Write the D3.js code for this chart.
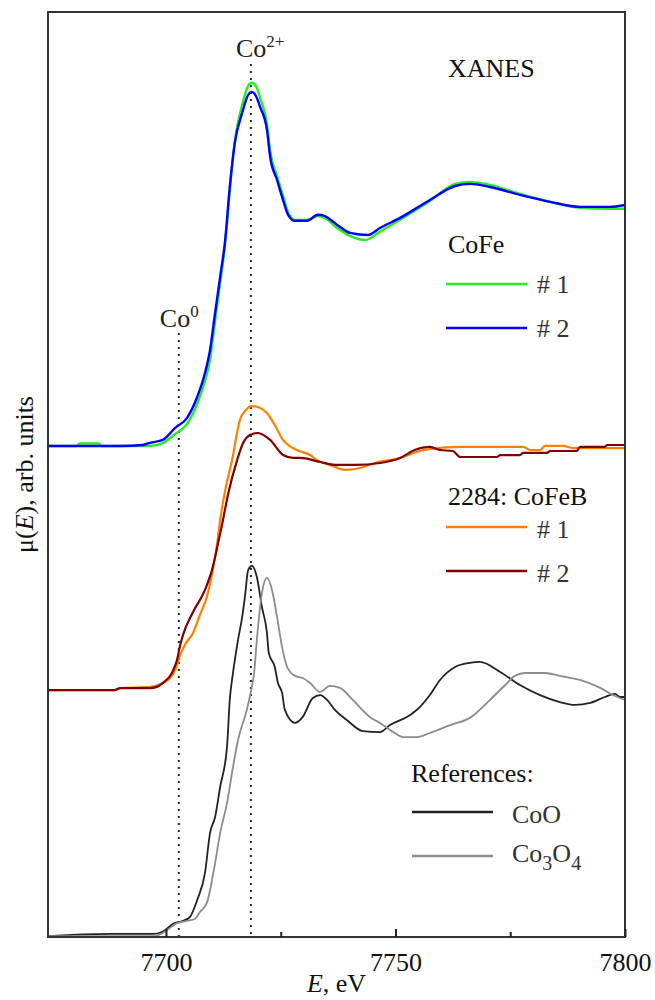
<!DOCTYPE html>
<html>
<head>
<meta charset="utf-8">
<script src="https://cdn.jsdelivr.net/npm/d3@7/dist/d3.min.js"></script>
<style>
body { margin: 0; background: #fff; }
svg text { font-family: "Liberation Serif", "DejaVu Serif", serif !important; }
</style>
</head>
<body>
<div id="chart"></div>
<script>
//// data: [E (eV), normalized mu(E)]
const cofe1 = [[7674.3,0],[7680.5,0],[7681.2,0.01],[7685.4,0.01],[7686.0,0],[7696.5,0],[7699.3,0.012],[7702.0,0.05],[7704.6,0.092],[7706.8,0.175],[7708.5,0.271],[7709.6,0.358],[7710.7,0.521],[7711.8,0.679],[7712.9,0.842],[7713.9,1.063],[7715.0,1.271],[7716.6,1.421],[7717.9,1.5],[7718.7,1.513],[7719.6,1.5],[7720.5,1.45],[7722.0,1.342],[7722.7,1.229],[7724.2,1.125],[7725.5,1.042],[7726.6,0.975],[7728.1,0.942],[7730.7,0.942],[7733.1,0.958],[7734.6,0.95],[7737.3,0.908],[7740.1,0.875],[7743.4,0.858],[7746.6,0.892],[7751.0,0.942],[7757.5,1.021],[7763.0,1.092],[7766.2,1.1],[7770.6,1.088],[7777.1,1.05],[7783.7,1.017],[7790.2,0.992],[7796.7,0.988],[7800.0,0.988]]
const cofe2 = [[7674.3,0],[7690.0,0],[7695.0,0.004],[7696.5,0.013],[7699.3,0.025],[7702.0,0.075],[7704.6,0.117],[7706.8,0.204],[7708.5,0.304],[7709.6,0.4],[7710.7,0.554],[7711.8,0.704],[7712.9,0.858],[7713.9,1.079],[7715.0,1.263],[7716.6,1.388],[7717.9,1.463],[7718.7,1.475],[7719.6,1.458],[7720.5,1.413],[7722.0,1.317],[7722.7,1.204],[7724.2,1.108],[7725.5,1.025],[7726.6,0.963],[7728.1,0.938],[7730.7,0.938],[7733.1,0.963],[7734.6,0.958],[7737.3,0.921],[7740.1,0.888],[7744.0,0.879],[7746.6,0.908],[7751.0,0.95],[7757.5,1.025],[7763.0,1.083],[7766.2,1.092],[7770.6,1.079],[7777.1,1.046],[7783.7,1.017],[7790.2,0.996],[7796.7,0.996],[7800.0,1.004]]
const cofeb1 = [[7674.3,0],[7688.9,0],[7690.0,0.008],[7696.5,0.013],[7699.3,0.029],[7700.9,0.05],[7702.0,0.083],[7703.1,0.146],[7704.1,0.188],[7705.9,0.238],[7707.4,0.313],[7708.9,0.388],[7710.2,0.5],[7711.1,0.604],[7711.8,0.708],[7712.9,0.833],[7714.4,0.958],[7716.1,1.125],[7717.4,1.167],[7718.7,1.183],[7720.0,1.179],[7722.0,1.154],[7723.7,1.104],[7725.5,1.042],[7728.5,1.0],[7731.4,0.979],[7732.9,0.958],[7735.7,0.938],[7739.0,0.917],[7742.3,0.925],[7745.5,0.946],[7751.0,0.967],[7755.3,0.996],[7757.5,1.004],[7764.1,1.013],[7777.8,1.013],[7779.3,1.0],[7781.5,1.0],[7782.6,1.017],[7786.5,1.017],[7788.7,1.008],[7800.0,1.008]]
const cofeb2 = [[7674.3,0],[7688.9,0],[7690.0,0.008],[7696.5,0.008],[7698.0,0.013],[7699.3,0.029],[7701.3,0.071],[7702.4,0.125],[7703.1,0.188],[7703.7,0.229],[7705.9,0.325],[7708.5,0.417],[7710.2,0.513],[7711.5,0.625],[7712.2,0.688],[7713.5,0.813],[7715.5,0.958],[7716.8,1.029],[7718.3,1.063],[7720.0,1.071],[7721.6,1.058],[7722.7,1.042],[7725.5,0.979],[7727.7,0.967],[7729.2,0.967],[7733.6,0.95],[7736.8,0.938],[7741.2,0.938],[7746.6,0.946],[7751.0,0.967],[7754.2,1.0],[7757.5,1.013],[7759.7,1.0],[7762.5,0.996],[7764.1,0.971],[7772.1,0.971],[7772.8,0.979],[7777.1,0.979],[7777.8,0.988],[7783.0,0.988],[7783.7,0.996],[7789.5,0.996],[7790.2,1.013],[7795.6,1.013],[7796.1,1.021],[7800.0,1.021]]
const coO = [[7674.3,0.004],[7687.8,0.013],[7697.2,0.013],[7699.1,0.021],[7699.8,0.029],[7701.5,0.054],[7703.7,0.067],[7705.2,0.083],[7706.8,0.154],[7708.5,0.267],[7709.6,0.433],[7710.7,0.5],[7711.8,0.625],[7713.3,0.792],[7713.9,0.988],[7714.6,1.1],[7715.7,1.238],[7716.6,1.333],[7717.2,1.417],[7717.9,1.529],[7718.7,1.546],[7719.8,1.5],[7720.9,1.375],[7722.0,1.267],[7722.4,1.183],[7723.7,1.125],[7724.4,1.058],[7725.3,1.017],[7725.9,0.946],[7728.1,0.892],[7729.8,0.917],[7732.0,0.996],[7733.6,1.008],[7735.1,0.988],[7736.8,0.946],[7739.4,0.904],[7742.9,0.858],[7746.6,0.854],[7748.8,0.883],[7753.2,0.925],[7755.3,0.958],[7757.5,1.008],[7759.7,1.071],[7763.0,1.125],[7766.2,1.142],[7768.4,1.146],[7772.8,1.104],[7777.1,1.05],[7781.5,1.008],[7785.8,0.979],[7789.1,0.967],[7792.4,0.975],[7795.6,1.0],[7797.8,1.013],[7798.9,1.0],[7800.0,1.0]]
const co3O4 = [[7674.3,0.004],[7697.6,0.004],[7699.3,0.017],[7700.9,0.038],[7702.4,0.058],[7704.6,0.067],[7706.3,0.075],[7707.4,0.104],[7708.9,0.142],[7710.7,0.308],[7711.8,0.433],[7713.3,0.558],[7714.6,0.708],[7715.7,0.821],[7717.6,0.946],[7718.7,1.042],[7719.2,1.1],[7719.8,1.238],[7720.9,1.433],[7722.0,1.496],[7723.1,1.446],[7724.2,1.333],[7725.3,1.208],[7726.4,1.125],[7728.1,1.088],[7729.8,1.079],[7731.4,1.058],[7733.6,1.021],[7735.7,1.046],[7737.9,1.038],[7740.7,0.988],[7744.4,0.917],[7746.6,0.892],[7749.5,0.854],[7751.6,0.833],[7754.7,0.833],[7757.5,0.85],[7761.9,0.883],[7766.2,0.913],[7770.6,0.988],[7773.9,1.05],[7776.0,1.088],[7778.2,1.1],[7782.6,1.1],[7785.8,1.088],[7790.2,1.071],[7794.6,1.038],[7797.8,1.004],[7800.0,0.988]]

// vertical offsets of the stacked spectra
const offsetCoFe = 2.046
const offsetCoFeB = 1.029
const offsetRefs = 0

const energyDomain = [7674.3, 7800]
const muDomain = [0, 3.854]
const tickValues = [7700, 7750, 7800]
const minorTickValues = [7725, 7775]
const edgeEnergies = [7702.8, 7718.5]   // Co0, Co2+

//// series table
const series = [
    { data: cofe1, offset: offsetCoFe, color: "#22ee22", width: 2.4 },
    { data: cofe2, offset: offsetCoFe, color: "#0000ff", width: 2.4 },
    { data: cofeb1, offset: offsetCoFeB, color: "#ff8000", width: 2.2 },
    { data: cofeb2, offset: offsetCoFeB, color: "#800000", width: 2.2 },
    { data: coO, offset: offsetRefs, color: "#222222", width: 1.8 },
    { data: co3O4, offset: offsetRefs, color: "#8c8c8c", width: 1.8 }
]

const serif = '"Liberation Serif", "DejaVu Serif", serif'

let width = 655
let height = 1000
let margin = { top: 12, right: 30, bottom: 63, left: 48 }

let x = d3.scaleLinear().domain(energyDomain).range([margin.left, width - margin.right])
let y = d3.scaleLinear().domain(muDomain).range([height - margin.bottom, margin.top])

const svg = d3.select("#chart").append("svg")
    .attr("width", width)
    .attr("height", height)
    .style("font-family", serif)

//// dotted edge markers
let edgeTop = [333, 64]
for (let i = 0; i < edgeEnergies.length; i++) {
    svg.append("line")
        .attr("x1", x(edgeEnergies[i])).attr("x2", x(edgeEnergies[i]))
        .attr("y1", edgeTop[i]).attr("y2", height - margin.bottom)
        .attr("stroke", "#222")
        .attr("stroke-width", 2)
        .attr("stroke-dasharray", "2,5")
}

//// spectra
for (let k = 0; k < series.length; k++) {
    let s = series[k]
    let line = d3.line()
        .x(d => x(d[0]))
        .y(d => y(d[1] + s.offset))
        .curve(d3.curveMonotoneX)
    svg.append("path")
        .datum(s.data)
        .attr("fill", "none")
        .attr("stroke", s.color)
        .attr("stroke-width", s.width)
        .attr("stroke-linejoin", "round")
        .attr("stroke-linecap", "round")
        .attr("d", line)
}

//// frame + axis
svg.append("rect")
    .attr("x", margin.left).attr("y", margin.top)
    .attr("width", width - margin.left - margin.right)
    .attr("height", height - margin.top - margin.bottom)
    .attr("fill", "none")
    .attr("stroke", "#333")
    .attr("stroke-width", 2)

let xAxis = g => g.attr("transform", `translate(0,${height - margin.bottom})`)
    .call(d3.axisBottom(x).tickValues(tickValues).tickSize(-8).tickPadding(16).tickFormat(d3.format("d")))
    .attr("font-family", serif)
    .call(g => g.select(".domain").remove())
    .call(g => g.selectAll(".tick line").attr("stroke", "#222").attr("stroke-width", 2))
    .call(g => g.selectAll(".tick text").attr("font-size", 26).attr("fill", "#111")
        .style("font-family", serif).attr("dy", "0.71em"))
svg.append("g").call(xAxis)

let xMinor = g => g.attr("transform", `translate(0,${height - margin.bottom})`)
    .call(d3.axisBottom(x).tickValues(minorTickValues).tickSize(-5).tickFormat(""))
    .call(g => g.select(".domain").remove())
    .call(g => g.selectAll(".tick line").attr("stroke", "#222").attr("stroke-width", 2))
svg.append("g").call(xMinor)

//// axis titles
let xTitle = svg.append("text")
    .attr("x", (margin.left + width - margin.right) / 2)
    .attr("y", 992)
    .attr("text-anchor", "middle")
    .attr("font-size", 26)
    .attr("fill", "#111")
    .style("font-family", serif)
xTitle.append("tspan").attr("font-style", "italic").text("E")
xTitle.append("tspan").text(", eV")

let yTitle = svg.append("text")
    .attr("transform", `translate(33,${(margin.top + height - margin.bottom) / 2}) rotate(-90)`)
    .attr("text-anchor", "middle")
    .attr("font-size", 26)
    .attr("fill", "#111")
    .style("font-family", serif)
yTitle.append("tspan").text("μ(")
yTitle.append("tspan").attr("font-style", "italic").text("E")
yTitle.append("tspan").text("), arb. units")

//// edge labels
function supLabel(xp, yp, base, sup) {
    let t = svg.append("text").attr("x", xp).attr("y", yp).attr("font-size", 26).attr("fill", "#222")
        .style("font-family", serif)
    t.append("tspan").text(base)
    t.append("tspan").attr("dy", -10).attr("font-size", 17).text(sup)
}
supLabel(x(edgeEnergies[0]) - 19, 327, "Co", "0")
supLabel(x(edgeEnergies[1]) - 15, 57, "Co", "2+")

//// legend blocks
function plainText(xp, yp, str, fill) {
    return svg.append("text").attr("x", xp).attr("y", yp)
        .attr("font-size", 26).attr("fill", fill || "#111")
        .style("font-family", serif).text(str)
}
function legendLine(x1, x2, yp, color, w) {
    svg.append("line").attr("x1", x1).attr("x2", x2).attr("y1", yp).attr("y2", yp)
        .attr("stroke", color).attr("stroke-width", w)
}

plainText(448, 77, "XANES")

plainText(448, 253, "CoFe")
legendLine(446, 527, 284, series[0].color, 2.6)
plainText(537, 293, "# 1", "#333")
legendLine(446, 527, 328, series[1].color, 2.6)
plainText(537, 337, "# 2", "#333")

plainText(448, 505, "2284: CoFeB")
legendLine(446, 527, 527, series[2].color, 2.6)
plainText(537, 538, "# 1", "#333")
legendLine(446, 527, 571, series[3].color, 2.6)
plainText(537, 582, "# 2", "#333")

plainText(411, 782, "References:")
legendLine(412, 493, 812, series[4].color, 2.6)
plainText(512, 823, "CoO", "#333")
legendLine(412, 493, 856, series[5].color, 2.6)
let co3 = plainText(512, 862, "", "#333")
co3.append("tspan").text("Co")
co3.append("tspan").attr("dy", 8).attr("font-size", 20).text("3")
co3.append("tspan").attr("dy", -8).text("O")
co3.append("tspan").attr("dy", 8).attr("font-size", 20).text("4")
</script>
</body>
</html>
